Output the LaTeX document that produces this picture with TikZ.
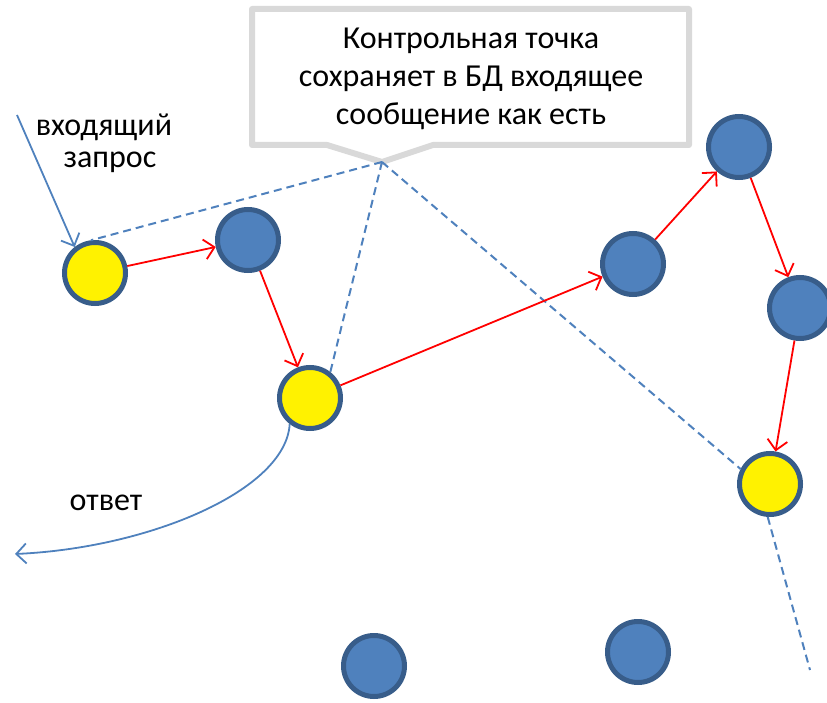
\documentclass[tikz,border=0pt]{standalone}
\usepackage{fontspec}
\setmainfont{Carlito}
\usetikzlibrary{arrows.meta}
\definecolor{nodeblue}{HTML}{4F81BD}
\definecolor{nodeedge}{HTML}{385D8A}
\definecolor{calloutgray}{HTML}{D9D9D9}
\tikzset{
  bluenode/.style={circle, draw=nodeedge, line width=5pt, fill=nodeblue, minimum size=61pt, inner sep=0pt},
  yellownode/.style={circle, draw=nodeedge, line width=5pt, fill=yellow, minimum size=61pt, inner sep=0pt},
  redarrow/.style={draw=red, line width=1.8pt, -{Straight Barb[length=10pt,width=20pt,line width=1.8pt]}},
  bluearrow/.style={draw=nodeblue, line width=1.8pt, -{Straight Barb[length=10pt,width=20pt,line width=1.8pt]}},
  dashline/.style={draw=nodeblue, line width=2pt, dash pattern=on 8pt off 5pt},
  labeltext/.style={font=\fontsize{32}{38}\selectfont, align=center, inner sep=0pt},
}
\begin{document}
\begin{tikzpicture}[x=1pt,y=-1pt]
\useasboundingbox (0,0) rectangle (827,703);
% callout
\draw[draw=calloutgray, line width=6pt, fill=white, line join=round]
  (252,9) -- (689,9) -- (689,145) -- (433,145) -- (382,162) coordinate (tip) -- (327,145) -- (252,145) -- cycle;
\node[labeltext] (callout) at (471,79) {Контрольная точка\\сохраняет в БД входящее\\сообщение как есть};
% nodes
\node[yellownode] (y1) at (95,273) {};
\node[bluenode] (b1) at (248,240) {};
\node[yellownode] (y2) at (310,398) {};
\node[bluenode] (b2) at (633,264) {};
\node[bluenode] (b3) at (739,147) {};
\node[bluenode] (b4) at (800,308) {};
\node[yellownode] (y3) at (770,484) {};
\node[bluenode] (b5) at (374,666) {};
\node[bluenode] (b6) at (638,652) {};
% dashed lines
\coordinate (dend) at (810,670);
\coordinate (inStart) at (17,115);
\coordinate (outEnd) at (15,554);
\draw[dashline] (tip) -- (y1.97);
\draw[dashline] (tip) -- (y2.52);
\draw[dashline] (tip) -- (y3.153);
\draw[dashline] (y3.266) -- (dend);
% red arrows
\draw[redarrow] (y1) -- (b1);
\draw[redarrow] (b1) -- (y2);
\draw[redarrow] (y2) -- (b2);
\draw[redarrow] (b2) -- (b3);
\draw[redarrow] (b3) -- (b4);
\draw[redarrow] (b4) -- (y3);
% in / out
\draw[bluearrow] (inStart) -- (y1.128);
\draw[bluearrow] (y2.232) .. controls (286,490) and (150,548) .. (outEnd);
% labels
\node[labeltext] (lin1) at (104,127) {входящий};
\node[labeltext] (lin2) at (110,162) {запрос};
\node[labeltext] (lout) at (106,503) {ответ};
\end{tikzpicture}
\end{document}
